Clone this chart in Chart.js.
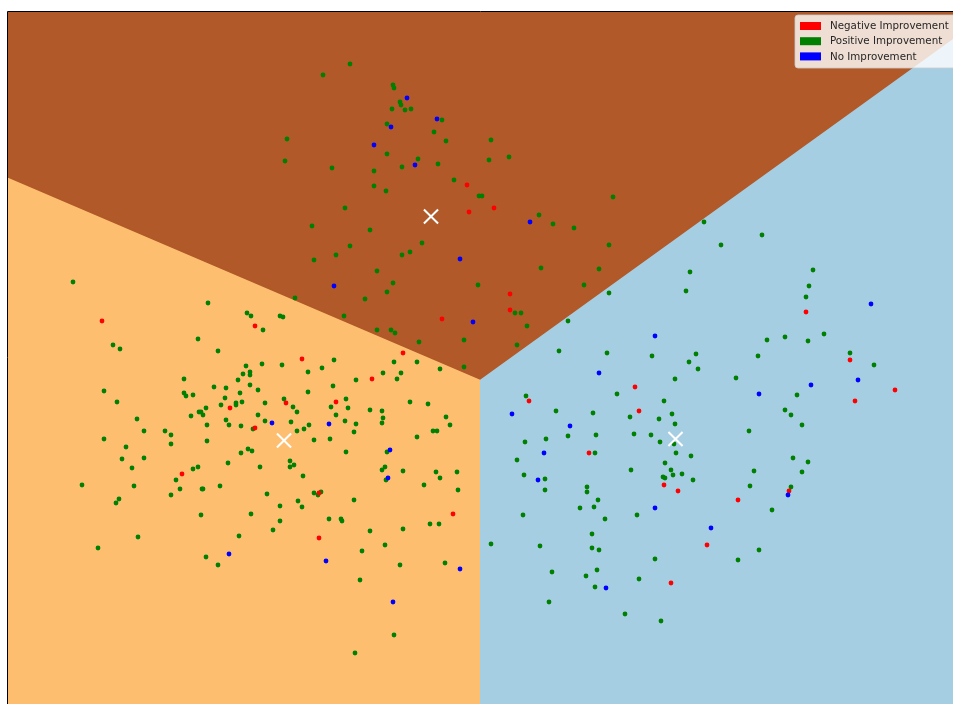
<!DOCTYPE html>
<html>
<head>
<meta charset="utf-8">
<script src="https://cdn.jsdelivr.net/npm/chart.js@4.4.0/dist/chart.umd.min.js"></script>
<style>
  html, body { margin: 0; padding: 0; background: #ffffff; }
  canvas { display: block; }
</style>
</head>
<body>
<canvas id="chart" width="953" height="704"></canvas>
<script>
// Plot extent in feature units (x grows right, y grows downward)
const xRange = [8, 953];
const yRange = [12, 704];

// Cluster decision boundaries
const boundaryLeft  = [[8, 177], [480, 379]];
const boundaryRight = [[480, 379], [953, 38]];

// Cluster centres
const centroids = [[431, 216.5], [284, 440.5], [675.5, 439]];

// Samples by outcome
const negative = [
  [467,185],[469,212],[494,208],[102,321],[255,326],[230,408],[255,428],[442,319],
  [403,353],[302,359],[372,379],[286,403],[336,402],[510,294],[510,310],[635,387],
  [529,401],[639,411],[589,453],[806,312],[850,360],[895,390],[855,401],[182,474],
  [319,493],[453,514],[319,538],[664,485],[678,491],[671,583],[789,491],[738,500],
  [707,545]
];

const positive = [
  [350,64],[323,75],[393,85],[394,88],[400,102],[401,105],[392,109],[405,110],[411,109],
  [442,120],[387,124],[434,132],[446,141],[287,139],[285,161],[387,154],[418,159],[438,164],
  [332,168],[374,171],[402,167],[454,180],[479,196],[482,196],[374,186],[386,191],[345,208],
  [312,226],[370,230],[422,243],[350,246],[336,255],[402,255],[410,252],[314,260],
  [491,140],[489,160],[509,157],[539,215],[553,224],[574,228],[613,197],[609,245],
  [704,222],[721,245],[762,235],
  [73,282],[208,303],[247,313],[251,316],[263,330],[198,339],[113,345],[120,349],[218,351],
  [246,366],[262,364],[243,374],[250,372],[250,375],[238,380],[184,379],[250,385],[214,387],
  [226,388],[258,390],[104,391],[184,393],[186,396],[193,395],[240,393],[225,398],[117,402],
  [236,403],[236,405],[242,402],[265,403],[221,405],[206,408],[199,412],[201,412],[203,415],
  [191,416],[258,415],[226,420],[265,421],[137,419],[207,425],[229,425],[241,426],[253,429],
  [144,431],[165,431],[171,435],[104,439],[207,441],[171,444],[126,447],[248,449],[252,451],
  [241,453],[122,459],[144,458],[228,463],
  [377,271],[393,283],[387,292],[478,285],[295,298],[365,299],[280,316],[283,317],[344,316],
  [377,330],[391,330],[395,333],[419,342],[464,340],[464,367],[334,360],[282,365],[394,362],
  [417,362],[322,368],[308,372],[383,373],[401,373],[440,369],[356,380],[397,379],[333,386],
  [308,392],[284,399],[346,399],[293,407],[297,412],[331,407],[348,408],[410,402],[428,404],
  [370,410],[382,411],[336,415],[383,418],[382,423],[446,417],[291,422],[309,425],[345,421],
  [356,424],[450,425],[297,431],[304,429],[354,432],[433,431],[437,431],[314,440],[330,439],
  [417,437],[346,452],[387,452],[290,461],
  [541,268],[599,269],[584,285],[609,293],[690,272],[686,291],[515,313],[521,313],[527,326],
  [568,321],[517,345],[559,351],[607,353],[652,356],[696,354],[689,362],[698,369],[675,379],
  [617,394],[526,396],[664,401],[556,411],[593,413],[630,417],[672,414],[659,419],[675,424],
  [634,434],[651,435],[596,435],[568,436],[546,439],[525,442],[660,442],[674,444],[595,453],
  [676,453],[691,456],[517,460],[665,463],
  [813,270],[809,286],[806,297],[767,340],[785,337],[808,341],[824,334],[758,356],[850,353],
  [874,365],[736,378],[797,395],[785,410],[791,415],[802,425],[749,431],[793,458],[808,462],
  [132,468],[193,469],[198,467],[260,467],[82,485],[134,486],[176,480],[180,489],[202,489],
  [203,489],[220,486],[171,495],[267,494],[119,499],[116,503],[201,515],[251,514],[273,530],
  [138,537],[239,536],[98,548],[206,557],[218,565],
  [290,467],[294,465],[303,476],[382,470],[385,467],[386,480],[403,471],[436,472],[457,472],
  [440,478],[424,485],[458,490],[314,493],[318,495],[321,492],[298,501],[280,506],[302,507],
  [354,500],[280,521],[329,519],[341,519],[342,521],[430,524],[439,524],[403,529],[370,531],
  [385,545],[362,551],[400,565],[445,563],[360,580],[394,635],[355,653],
  [524,475],[545,479],[545,490],[631,470],[671,470],[663,477],[665,478],[673,475],[682,474],
  [693,480],[587,487],[587,492],[598,500],[580,508],[594,507],[523,515],[637,515],[605,519],
  [592,534],[491,544],[540,546],[592,548],[599,550],[655,559],[552,572],[597,570],[586,576],
  [639,579],[595,587],[549,602],[625,614],[661,621],
  [754,471],[802,472],[750,486],[791,487],[772,510],[759,550],[738,560]
];

const noImprovement = [
  [407,98],[437,119],[391,127],[374,145],[415,165],[460,259],[530,222],[334,286],[473,322],
  [272,423],[329,424],[390,450],[655,336],[599,373],[512,414],[570,426],[544,453],[871,304],
  [858,380],[811,385],[759,394],[229,554],[388,478],[326,561],[460,569],[393,602],[538,480],
  [655,508],[606,588],[788,495],[711,528]
];

const legendLabels = ['Negative Improvement', 'Positive Improvement', 'No Improvement'];
const legendColors = ['#ff0000', '#008000', '#0000ff'];

const regionColors = { upper: '#b15928', left: '#fdbf6f', right: '#a6cee3' };

const toPoints = arr => arr.map(([x, y]) => ({ x, y }));

// Axis frame on the left and top edges
const framePlugin = {
  id: 'frame',
  afterDatasetsDraw(chart) {
    const { ctx, chartArea: a } = chart;
    ctx.save();
    ctx.strokeStyle = '#000000';
    ctx.lineWidth = 1;
    ctx.beginPath();
    ctx.moveTo(a.left - 0.5, a.bottom);
    ctx.lineTo(a.left - 0.5, a.top - 0.5);
    ctx.lineTo(a.right, a.top - 0.5);
    ctx.stroke();
    ctx.restore();
  }
};

// Boxed legend in the upper-right corner
const boxLegendPlugin = {
  id: 'boxLegend',
  afterDraw(chart) {
    const { ctx } = chart;
    const x = 795, y = 15, w = 162, h = 53, r = 3;
    ctx.save();
    ctx.beginPath();
    ctx.moveTo(x + r, y);
    ctx.lineTo(x + w - r, y);
    ctx.arcTo(x + w, y, x + w, y + r, r);
    ctx.lineTo(x + w, y + h - r);
    ctx.arcTo(x + w, y + h, x + w - r, y + h, r);
    ctx.lineTo(x + r, y + h);
    ctx.arcTo(x, y + h, x, y + h - r, r);
    ctx.lineTo(x, y + r);
    ctx.arcTo(x, y, x + r, y, r);
    ctx.closePath();
    ctx.fillStyle = 'rgba(255,255,255,0.8)';
    ctx.fill();
    ctx.strokeStyle = 'rgba(204,204,204,0.8)';
    ctx.lineWidth = 1;
    ctx.stroke();

    ctx.font = '10.3px "DejaVu Sans"';
    ctx.textBaseline = 'middle';
    ctx.textAlign = 'left';
    legendLabels.forEach((label, i) => {
      const cy = 26 + i * 15.2;
      ctx.fillStyle = legendColors[i];
      ctx.fillRect(800, cy - 4, 21, 8);
      ctx.fillStyle = '#262626';
      ctx.fillText(label, 830, cy + 0.5);
    });
    ctx.restore();
  }
};

const dotStyle = color => ({
  backgroundColor: color,
  borderWidth: 0,
  pointRadius: 2.4,
  pointHoverRadius: 2.4
});

new Chart(document.getElementById('chart'), {
  type: 'scatter',
  data: {
    datasets: [
      {
        label: 'cluster-upper',
        data: toPoints(boundaryLeft.concat(boundaryRight.slice(1))),
        showLine: true,
        fill: { value: yRange[0] },
        backgroundColor: regionColors.upper,
        borderColor: regionColors.upper,
        borderWidth: 1.5,
        pointRadius: 0,
        tension: 0,
        order: 20
      },
      {
        label: 'cluster-left',
        data: toPoints(boundaryLeft),
        showLine: true,
        fill: { value: yRange[1] },
        backgroundColor: regionColors.left,
        borderColor: 'rgba(0,0,0,0)',
        borderWidth: 0,
        pointRadius: 0,
        tension: 0,
        order: 21
      },
      {
        label: 'cluster-right',
        data: toPoints(boundaryRight),
        showLine: true,
        fill: { value: yRange[1] },
        backgroundColor: regionColors.right,
        borderColor: 'rgba(0,0,0,0)',
        borderWidth: 0,
        pointRadius: 0,
        tension: 0,
        order: 22
      },
      { label: legendLabels[1], data: toPoints(positive), ...dotStyle(legendColors[1]), order: 5 },
      { label: legendLabels[0], data: toPoints(negative), ...dotStyle(legendColors[0]), order: 4 },
      { label: legendLabels[2], data: toPoints(noImprovement), ...dotStyle(legendColors[2]), order: 3 },
      {
        label: 'centroids',
        data: toPoints(centroids),
        pointStyle: 'crossRot',
        pointRadius: 10,
        pointHoverRadius: 10,
        borderColor: '#ffffff',
        borderWidth: 2,
        backgroundColor: '#ffffff',
        order: 1
      }
    ]
  },
  options: {
    responsive: false,
    animation: false,
    events: [],
    layout: { autoPadding: false, padding: { left: 8, top: 12, right: 0, bottom: 0 } },
    scales: {
      x: { type: 'linear', min: xRange[0], max: xRange[1], display: false },
      y: { type: 'linear', min: yRange[0], max: yRange[1], reverse: true, display: false }
    },
    plugins: {
      legend: { display: false },
      tooltip: { enabled: false }
    }
  },
  plugins: [framePlugin, boxLegendPlugin]
});
</script>
</body>
</html>
